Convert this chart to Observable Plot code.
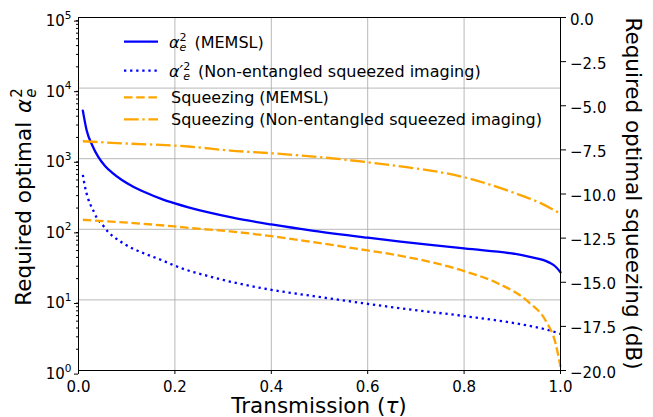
<!DOCTYPE html>
<html><head><meta charset="utf-8">
<script src="https://cdn.jsdelivr.net/npm/d3@7"></script>
<script src="https://cdn.jsdelivr.net/npm/@observablehq/plot@0.6"></script>
<style>body{margin:0;background:#fff} svg{display:block}</style>
</head><body><div id="chart"></div>
<script>
// --- data ---
const tauMem = [0.009, 0.017, 0.028, 0.041, 0.055, 0.069, 0.09, 0.11, 0.138, 0.173, 0.2, 0.228, 0.272, 0.32, 0.4, 0.488, 0.6, 0.668, 0.8, 0.934, 0.976, 0.99, 1.0];
const alphaMem = [4800, 2510, 1580, 1060, 790, 640, 500, 415, 335, 268, 233, 205, 172, 146, 117, 95, 76, 67, 53.5, 41, 34, 29.5, 24.6];

const tauNe = [0.009, 0.0138, 0.019, 0.024, 0.029, 0.038, 0.048, 0.062, 0.083, 0.111, 0.138, 0.173, 0.2, 0.221, 0.272, 0.32, 0.4, 0.488, 0.6, 0.668, 0.8, 0.934, 0.983, 1.0];
const alphaNe = [590, 390, 285, 229, 196, 145, 120, 91, 70, 54, 45, 36.5, 30.5, 27, 21.5, 17.8, 13.9, 11.3, 8.8, 7.6, 5.9, 4.3, 3.6, 3.3];

const tauSqMem = [0.009, 0.104, 0.2, 0.228, 0.315, 0.4, 0.488, 0.6, 0.668, 0.8, 0.865, 0.934, 0.969, 0.99, 1.0];
const sqMem = [-11.46, -11.63, -11.84, -11.92, -12.12, -12.39, -12.73, -13.2, -13.5, -14.37, -15.0, -16.13, -17.17, -18.49, -19.8];

const tauSqNe = [0.009, 0.1, 0.2, 0.228, 0.315, 0.4, 0.488, 0.6, 0.658, 0.8, 0.9, 0.962, 1.0];
const sqNe = [-7.01, -7.14, -7.26, -7.31, -7.54, -7.69, -7.88, -8.2, -8.4, -9.05, -9.9, -10.56, -11.12];

const xTicks = [0, 0.2, 0.4, 0.6, 0.8, 1.0];
const yExps = [0, 1, 2, 3, 4, 5];
const dbTicks = [-20, -17.5, -15, -12.5, -10, -7.5, -5, -2.5, 0];

// --- helpers ---
const toY = d => Math.pow(10, (d + 20) / 4);          // dB -> left log scale
const yTicks = yExps.map(e => Math.pow(10, e));
const minorTicks = [];
for (let e = 0; e < 5; e++) for (let m = 2; m <= 9; m++) minorTicks.push(m * Math.pow(10, e));

const blue = "#0000ff", orange = "#ffa500";
const lw = 2.3;
const dotted = `${lw},${(1.65*lw).toFixed(2)}`;
const dashed = `${(3.7*lw).toFixed(2)},${(1.6*lw).toFixed(2)}`;
const dashdot = `${(6.4*lw).toFixed(2)},${(1.6*lw).toFixed(2)},${lw},${(1.6*lw).toFixed(2)}`;

const memRows = tauMem.map((t, i) => ({t, v: alphaMem[i]}));
const neRows = tauNe.map((t, i) => ({t, v: alphaNe[i]}));
const sqMemRows = tauSqMem.map((t, i) => ({t, v: toY(sqMem[i])}));
const sqNeRows = tauSqNe.map((t, i) => ({t, v: toY(sqNe[i])}));
const dbRows = dbTicks.map(d => ({v: toY(d), label: d.toFixed(1).replace("-", "\u2212")}));

const plot = Plot.plot({
  width: 653, height: 417,
  marginLeft: 78, marginRight: 93, marginTop: 17, marginBottom: 47,
  style: {fontFamily: "'DejaVu Sans', sans-serif", fontSize: "15px", color: "black", background: "white", overflow: "visible"},
  x: {domain: [0, 1]},
  y: {type: "log", domain: [1, 1e5]},
  marks: [
    Plot.gridX({ticks: xTicks.slice(1, -1), stroke: "#b0b0b0", strokeOpacity: 1, strokeWidth: 0.9}),
    Plot.gridY({ticks: yTicks.slice(1, -1), stroke: "#b0b0b0", strokeOpacity: 1, strokeWidth: 0.9}),
    Plot.line(memRows, {x: "t", y: "v", stroke: blue, strokeWidth: lw, curve: "monotone-x"}),
    Plot.line(neRows, {x: "t", y: "v", stroke: blue, strokeWidth: lw, strokeDasharray: dotted, strokeLinecap: "butt", curve: "monotone-x"}),
    Plot.line(sqMemRows, {x: "t", y: "v", stroke: orange, strokeWidth: lw, strokeDasharray: dashed, strokeLinecap: "butt", curve: "monotone-x"}),
    Plot.line(sqNeRows, {x: "t", y: "v", stroke: orange, strokeWidth: lw, strokeDasharray: dashdot, strokeLinecap: "butt", curve: "monotone-x"}),
    Plot.frame({stroke: "black", strokeWidth: 1}),
    Plot.axisX({ticks: xTicks, tickFormat: d => d.toFixed(1), tickSize: 4, tickPadding: 7, label: null}),
    Plot.axisY({ticks: yTicks, tickFormat: d => "10^" + Math.round(Math.log10(d)), tickSize: 4, tickPadding: 3, dy: 3.6, label: null}),
    Plot.axisY({ticks: minorTicks, tickFormat: () => "", tickSize: 2, label: null}),
    Plot.axisY({anchor: "right", ticks: dbRows.map(d => d.v), tickFormat: () => "", tickSize: 5, label: null}),
    Plot.text(dbRows, {y: "v", text: "label", frameAnchor: "right", textAnchor: "start", dx: 9.5, dy: 2.2, fontSize: 15})
  ]
});
document.getElementById("chart").appendChild(plot);

const svg = d3.select(plot);
// superscript exponents on log tick labels
svg.selectAll("text").each(function() {
  const m = /^10\^(\d)$/.exec(this.textContent);
  if (!m) return;
  const t = d3.select(this);
  t.text("10");
  t.append("tspan").attr("font-size", 10.5).attr("dy", -7.4).text(m[1]);
});

const F = "'DejaVu Sans', sans-serif";
// legend
const legend = [
  {y: 41.7, color: blue, dash: null, kind: "a"},
  {y: 70.7, color: blue, dash: dotted, kind: "b"},
  {y: 97.3, color: orange, dash: dashed, kind: "c"},
  {y: 119.3, color: orange, dash: dashdot, kind: "d"}
];
const lg = svg.append("g").attr("font-family", F).attr("fill", "black").attr("text-anchor", "start");
legend.forEach(it => {
  lg.append("line").attr("x1", 124).attr("x2", 158).attr("y1", it.y).attr("y2", it.y)
    .attr("stroke", it.color).attr("stroke-width", lw)
    .attr("stroke-dasharray", it.dash).attr("stroke-linecap", "butt");
  const t = lg.append("text").attr("x", 169).attr("y", it.y + 6).attr("font-size", 16).attr("text-anchor", "start");
  if (it.kind === "a" || it.kind === "b") {
    t.append("tspan").attr("font-style", "italic").text(it.kind === "a" ? "α" : "α\u2032");
    t.append("tspan").attr("font-size", 11).attr("dy", -7).text("2");
    t.append("tspan").attr("font-size", 11).attr("font-style", "italic").attr("dx", -7).attr("dy", 10.5).text("e");
    t.append("tspan").attr("font-size", 16).attr("dy", -3.5).attr("dx", 3)
      .text(it.kind === "a" ? " (MEMSL)" : " (Non-entangled squeezed imaging)");
  } else {
    t.attr("x", 171).text(it.kind === "c" ? "Squeezing (MEMSL)" : "Squeezing (Non-entangled squeezed imaging)");
  }
});

// axis labels
const LS = 21.5;
const xl = svg.append("text").attr("x", 319).attr("y", 413).attr("text-anchor", "middle")
  .attr("font-family", F).attr("font-size", LS).attr("fill", "black");
xl.append("tspan").text("Transmission (");
xl.append("tspan").attr("font-style", "italic").text("τ");
xl.append("tspan").text(")");

const yl = svg.append("text").attr("transform", "translate(30.5,197) rotate(-90)").attr("text-anchor", "middle")
  .attr("font-family", F).attr("font-size", LS).attr("fill", "black");
yl.append("tspan").text("Required optimal ");
yl.append("tspan").attr("font-style", "italic").attr("dx", 2).text("α");
yl.append("tspan").attr("font-size", 15).attr("dy", -9).attr("dx", 1).text("2");
yl.append("tspan").attr("font-size", 15).attr("font-style", "italic").attr("dx", -9.5).attr("dy", 14).text("e");

svg.append("text").attr("transform", "translate(626,193.5) rotate(90)").attr("text-anchor", "middle")
  .attr("font-family", F).attr("font-size", LS).attr("fill", "black")
  .text("Required optimal squeezing (dB)");
</script>
</body></html>
